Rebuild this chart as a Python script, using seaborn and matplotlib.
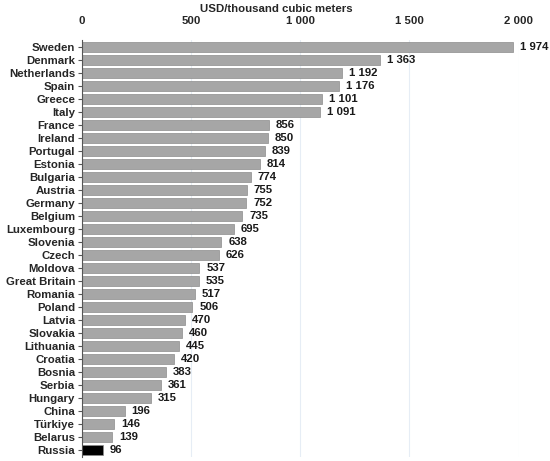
import seaborn as sns
import matplotlib.pyplot as plt
import pandas as pd

countries = ["Sweden", "Denmark", "Netherlands", "Spain", "Greece", "Italy", "France",
             "Ireland", "Portugal", "Estonia", "Bulgaria", "Austria", "Germany", "Belgium",
             "Luxembourg", "Slovenia", "Czech", "Moldova", "Great Britain", "Romania",
             "Poland", "Latvia", "Slovakia", "Lithuania", "Croatia", "Bosnia", "Serbia",
             "Hungary", "China", "Türkiye", "Belarus", "Russia"]
prices = [1974, 1363, 1192, 1176, 1101, 1091, 856, 850, 839, 814, 774, 755, 752, 735,
          695, 638, 626, 537, 535, 517, 506, 470, 460, 445, 420, 383, 361, 315, 196,
          146, 139, 96]
ticks = [0, 500, 1000, 1500, 2000]


def fmt(v):
    return "{:,}".format(v).replace(",", " ")


df = pd.DataFrame({"country": countries, "price": prices})
df["grp"] = ["Russia" if c == "Russia" else "other" for c in countries]

sns.set_style("white")
plt.rcParams['font.family'] = ['Liberation Sans', 'DejaVu Sans']
fs = 8.2

fig = plt.figure(figsize=(5.5, 4.61), dpi=100)
ax = fig.add_axes([0.149, 0.009, 0.794, 0.904])

sns.barplot(data=df, x="price", y="country", hue="grp",
            palette={"other": "#A6A6A6", "Russia": "#000000"},
            width=0.76, edgecolor="#8c8c8c", linewidth=0.5,
            legend=False, ax=ax)

for i, v in enumerate(prices):
    ax.annotate(fmt(v), (v, i), xytext=(5, 0), textcoords="offset points",
                va="center", ha="left", fontsize=fs, fontweight="bold",
                color="#1a1a1a")

ax.set_xlim(0, 2000)
ax.set_ylim(len(countries) - 0.5, -0.5)
ax.xaxis.tick_top()
ax.xaxis.set_label_position("top")
ax.set_xticks(ticks)
ax.set_xticklabels([fmt(t) for t in ticks], fontsize=fs, fontweight="bold")
ax.set_xlabel("USD/thousand cubic meters", fontsize=fs, fontweight="bold", labelpad=3)
ax.xaxis.label.set_x(0.445)
ax.set_ylabel("")
ax.tick_params(axis="y", labelsize=fs, length=3, pad=2, left=True, color="#555555")
ax.tick_params(axis="x", length=0, pad=10)
for lab in ax.get_yticklabels():
    lab.set_fontweight("bold")
ax.xaxis.grid(True, color="#e6edf5", linewidth=0.8)
ax.set_axisbelow(True)
for s in ["top", "right", "bottom"]:
    ax.spines[s].set_visible(False)
ax.spines["left"].set_color("#555555")
ax.spines["left"].set_linewidth(0.8)

fig.savefig("out.png", dpi=100)
